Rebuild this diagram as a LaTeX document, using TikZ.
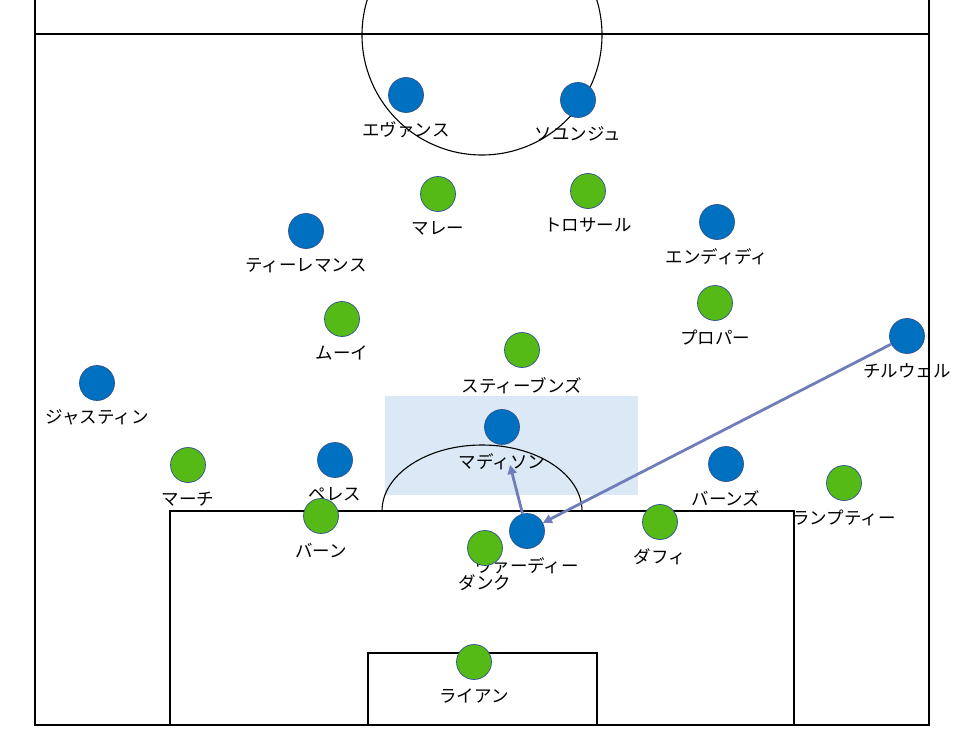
\documentclass[tikz,border=0pt]{standalone}
\usepackage{fontspec}
\newfontfamily\jpfont{Noto Sans CJK JP}
\usetikzlibrary{arrows.meta,positioning}
\definecolor{teamblue}{RGB}{0,112,192}
\definecolor{teamgreen}{RGB}{86,186,22}
\definecolor{playeredge}{RGB}{47,82,143}
\definecolor{passblue}{RGB}{111,125,185}
\definecolor{zonefill}{RGB}{219,233,246}
\tikzset{
  pitch line/.style={draw=black,line width=1.1pt},
  player/.style={circle,draw=playeredge,line width=0.7pt,
    minimum size=35pt,inner sep=0pt},
  blue player/.style={player,fill=teamblue},
  green player/.style={player,fill=teamgreen},
  player label/.style={font=\jpfont\fontsize{17.5}{19}\selectfont,
    text=black,inner sep=0pt},
  pass edge/.style={-{Triangle[length=9pt,width=9pt]},draw=passblue,
    line width=2.8pt}
}

\begin{document}
\begin{tikzpicture}[x=1pt,y=-1pt]
     \useasboundingbox (0,0) rectangle (964,733);
     \clip (0,0) rectangle (964,733);
     % zone in front of the box
     \fill[zonefill] (385,396) rectangle (638,495);
     % pitch
     \draw[pitch line] (35,0) -- (35,725) -- (929,725) -- (929,0);
     \draw[pitch line] (35,34) -- (929,34);
     \draw[pitch line] (482,35) circle[radius=120];
     \draw[pitch line] (170,725) -- (170,511) -- (794,511) -- (794,725);
     \draw[pitch line] (368,725) -- (368,653) -- (597,653) -- (597,725);
     \draw[pitch line] (382,511) arc[start angle=180,end angle=360,
       x radius=100,y radius=66];
     % players
     \foreach \n/\x/\y/\t in {evans/406/95/エヴァンス,
         soyuncu/578/100/ソユンジュ,tielemans/306/231/ティーレマンス,
         ndidi/717/222/エンディディ,justin/97/383/ジャスティン,
         perez/335/460/ペレス,maddison/502/427/マディソン,
         barnes/726/464/バーンズ,chilwell/907/336/チルウェル,
         vardy/527/531/ヴァーディー}
       \node[blue player,label={[player label,name=\n label,
         label distance=9pt]below:\t}] (\n) at (\x,\y) {};
     \foreach \n/\x/\y/\t in {murray/438/194/マレー,
         trossard/588/191/トロサール,mooy/342/319/ムーイ,
         propper/715/303/プロパー,stephens/522/350/スティーブンズ,
         march/188/465/マーチ,burn/321/516/バーン,dunk/485/548/ダンク,
         duffy/660/522/ダフィ,lamptey/844/483/ランプティー,
         ryan/474/662/ライアン}
       \node[green player,label={[player label,name=\n label,
         label distance=9pt]below:\t}] (\n) at (\x,\y) {};
     % passes
     \coordinate (passend) at (510,465);
     \draw[pass edge] (chilwell) -- (vardy);
     \draw[pass edge] (vardy) -- (passend);
   \end{tikzpicture}
\end{document}
